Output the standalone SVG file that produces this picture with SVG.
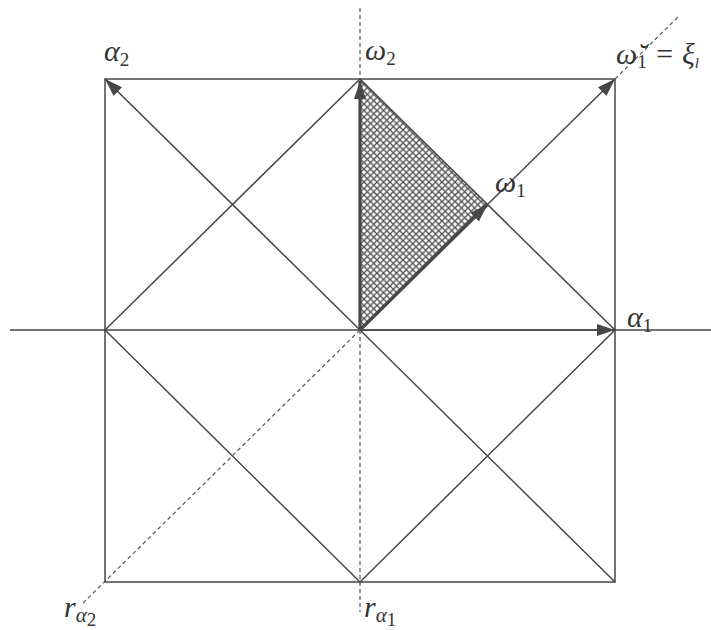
<svg xmlns="http://www.w3.org/2000/svg" width="711" height="630" viewBox="0 0 711 630">
<style>
.thin{stroke:#474747;stroke-width:1.5;fill:none}
.thick{stroke:#474747;stroke-width:3.2;fill:none}
.dash{stroke:#555;stroke-width:1.2;stroke-dasharray:4 3;fill:none}
.lab{font-family:"Liberation Serif","DejaVu Serif",serif;font-style:italic;font-size:30px;fill:#333}
.sub{font-style:normal;font-size:19px}
</style>
<defs>
<marker id="ah" markerUnits="userSpaceOnUse" markerWidth="20" markerHeight="14" refX="18" refY="6" orient="auto" viewBox="0 0 20 12">
<path d="M0,0 L18,6 L0,12 Z" fill="#474747"/>
</marker>
<pattern id="hatch" patternUnits="userSpaceOnUse" width="6.5" height="6.5">
<rect width="6.5" height="6.5" fill="#fff"/>
<path d="M0,0 L6.5,6.5 M0,6.5 L6.5,0" stroke="#555" stroke-width="1.4"/>
</pattern>
</defs>
<polygon id="shade" points="360,79 360,330 487.5,204.5" fill="url(#hatch)"/>
<g id="connectors">
<rect class="thin" x="105" y="79" width="510" height="503"/>
<polygon class="thin" points="105,330 360,79 615,330 360,582"/>
<line class="thin" x1="10" y1="330" x2="711" y2="330"/>
<line class="thin" x1="360" y1="330" x2="615" y2="330" marker-end="url(#ah)"/>
<line class="thin" x1="615" y1="582" x2="360" y2="330"/>
<line class="thin" x1="360" y1="330" x2="105" y2="79" marker-end="url(#ah)"/>
<line class="dash" x1="360" y1="8" x2="360" y2="79"/>
<line class="dash" x1="360" y1="330" x2="360" y2="612"/>
<line class="thick" x1="360" y1="330" x2="360" y2="81" marker-end="url(#ah)"/>
<line class="thick" x1="360" y1="330" x2="487.5" y2="204.5" marker-end="url(#ah)"/>
<line class="thin" x1="487.5" y1="204.5" x2="615" y2="79" marker-end="url(#ah)"/>
<line class="dash" x1="615" y1="79" x2="679" y2="16"/>
<line class="dash" x1="360" y1="330" x2="82" y2="604"/>
</g>
<g id="labels">
<text id="alpha2" class="lab" x="104" y="61">α<tspan class="sub" dy="5">2</tspan></text>
<text id="omega2" class="lab" x="365" y="60">ω<tspan class="sub" dy="5">2</tspan></text>
<text id="omega1breve" class="lab" x="616" y="64">ω̆<tspan class="sub" dy="4">1</tspan><tspan dy="-4"> = ξ</tspan><tspan font-size="15" dy="4">l</tspan></text>
<text id="omega1" class="lab" x="495" y="192">ω<tspan class="sub" dy="5">1</tspan></text>
<text id="alpha1" class="lab" x="627" y="327">α<tspan class="sub" dy="5">1</tspan></text>
<text id="ralpha2" class="lab" x="64" y="617">r<tspan font-size="21" dy="5">α</tspan><tspan class="sub" font-size="14" dy="4">2</tspan></text>
<text id="ralpha1" class="lab" x="364" y="617">r<tspan font-size="21" dy="5">α</tspan><tspan class="sub" font-size="14" dy="4">1</tspan></text>
</g>
</svg>
